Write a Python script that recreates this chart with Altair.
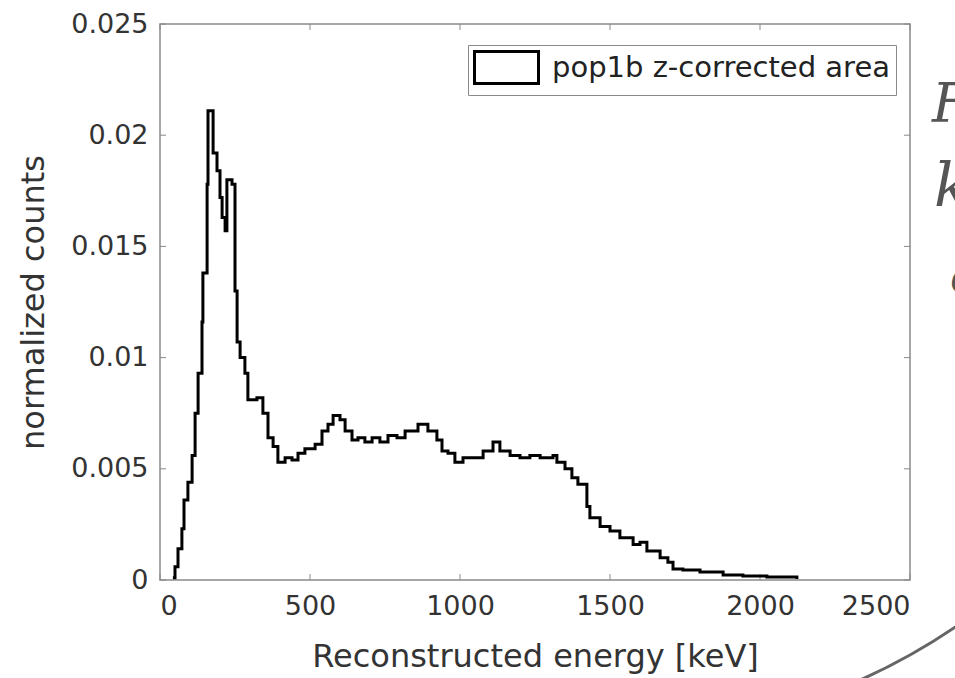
import altair as alt
import pandas as pd

# Histogram (bin left edge in keV, normalized counts)
energy = [43, 50, 60, 73, 80, 93, 107, 117, 127, 140, 143, 157, 160, 177, 190, 200,
          207, 217, 223, 240, 250, 257, 267, 283, 293, 323, 343, 360, 377, 393, 417,
          440, 460, 483, 517, 540, 560, 577, 600, 617, 640, 660, 683, 707, 733, 760,
          790, 817, 860, 893, 923, 940, 960, 983, 1010, 1057, 1077, 1110, 1133, 1167,
          1200, 1233, 1267, 1310, 1323, 1350, 1373, 1393, 1423, 1433, 1467, 1500, 1533,
          1577, 1600, 1623, 1667, 1693, 1710, 1743, 1800, 1877, 1943, 2023, 2123]
counts = [0.0001, 0.0006, 0.0014, 0.0023, 0.0036, 0.0044, 0.0056, 0.0075, 0.0093, 0.0116,
          0.0138, 0.0178, 0.0211, 0.0192, 0.0184, 0.0172, 0.0163, 0.0157, 0.0180, 0.0178,
          0.0130, 0.0107, 0.0100, 0.0093, 0.0081, 0.0082, 0.0075, 0.0064, 0.0060, 0.0053,
          0.0055, 0.0054, 0.0057, 0.0059, 0.0061, 0.0067, 0.0070, 0.0074, 0.0072, 0.0067,
          0.0063, 0.0064, 0.0062, 0.0064, 0.0062, 0.0065, 0.0064, 0.0067, 0.0070, 0.0067,
          0.0063, 0.0058, 0.0057, 0.0053, 0.0055, 0.0055, 0.0058, 0.0062, 0.0058, 0.0056,
          0.0055, 0.0056, 0.0055, 0.0056, 0.0053, 0.0050, 0.0046, 0.0043, 0.0033, 0.0028,
          0.0024, 0.0022, 0.0019, 0.0016, 0.0017, 0.0013, 0.0010, 0.0008, 0.0005, 0.00045,
          0.00036, 0.00022, 0.00018, 0.00013, 0.00005]
series_name = "pop1b z-corrected area"

x_ticks = [0, 500, 1000, 1500, 2000, 2500]
y_ticks = [0, 0.005, 0.01, 0.015, 0.02, 0.025]

# fragments of slide text visible at the right edge
slide_letters = ["F", "k", "c"]

W, H = 750, 556
FONT = "DejaVu Sans"
GRAY = "#8a8a8a"

df = pd.DataFrame({"energy": energy, "counts": counts, "series": series_name})
dfx = pd.DataFrame({"v": x_ticks})
dfy = pd.DataFrame({"v": y_ticks})

xscale = alt.Scale(domain=[0, 2500], nice=False, zero=False)
yscale = alt.Scale(domain=[0, 0.025], nice=False)

line = alt.Chart(df).mark_line(interpolate="step-after", strokeWidth=3).encode(
    x=alt.X("energy:Q", scale=xscale,
            axis=alt.Axis(values=x_ticks, format="d", title="Reconstructed energy [keV]",
                          tickSize=0, domain=False, grid=False, labelPadding=13,
                          titlePadding=22)),
    y=alt.Y("counts:Q", scale=yscale,
            axis=alt.Axis(values=y_ticks, format="~g", title="normalized counts",
                          tickSize=0, domain=False, grid=False, labelPadding=12,
                          titlePadding=20)),
    color=alt.Color("series:N", scale=alt.Scale(range=["black"]),
                    legend=alt.Legend(title=None, orient="none", legendX=308, legendY=21,
                                      symbolType="M-1,-1H3V1H-1Z", symbolSize=1024,
                                      symbolStrokeWidth=3, symbolFillColor="white",
                                      labelFontSize=29, labelFont=FONT, labelColor="#222",
                                      labelLimit=600, labelOffset=44,
                                      padding=5, strokeColor=GRAY, fillColor="white",
                                      cornerRadius=0)),
)

xt_bottom = alt.Chart(dfx).mark_rule(color=GRAY, strokeWidth=1).encode(
    x=alt.X("v:Q", scale=xscale), y=alt.value(H), y2=alt.value(H - 6))
xt_top = alt.Chart(dfx).mark_rule(color=GRAY, strokeWidth=1).encode(
    x=alt.X("v:Q", scale=xscale), y=alt.value(0), y2=alt.value(6))
yt_left = alt.Chart(dfy).mark_rule(color=GRAY, strokeWidth=1).encode(
    y=alt.Y("v:Q", scale=yscale), x=alt.value(0), x2=alt.value(6))
yt_right = alt.Chart(dfy).mark_rule(color=GRAY, strokeWidth=1).encode(
    y=alt.Y("v:Q", scale=yscale), x=alt.value(W), x2=alt.value(W - 6))

slide_text = alt.Chart(pd.DataFrame({"t": slide_letters,
                                     "px": [772, 774, 790],
                                     "py": [98, 182, 268],
                                     "fs": [54, 60, 44]})).mark_text(
    font="DejaVu Serif", fontStyle="italic", color="#555", align="left",
    baseline="alphabetic", clip=False).encode(
    text="t:N", x=alt.X("px:Q", scale=None), y=alt.Y("py:Q", scale=None),
    size=alt.Size("fs:Q", scale=None, legend=None))

slide_arc = alt.Chart(pd.DataFrame({"k": [0]})).mark_arc(
    color="#666", clip=False).encode(
    x=alt.value(440), y=alt.value(76),
    radius=alt.value(637), radius2=alt.value(634),
    theta=alt.value(2.45), theta2=alt.value(2.9))

chart = alt.layer(xt_bottom, xt_top, yt_left, yt_right, line, slide_text,
                  slide_arc).properties(
    width=W, height=H,
    background="white",
    autosize=alt.AutoSizeParams(type="none"),
    padding={"left": 160, "top": 24, "right": 45, "bottom": 98},
).configure_view(stroke=GRAY, strokeWidth=1.5).configure_axis(
    labelFont=FONT, labelFontSize=27, labelColor="#333",
    titleFont=FONT, titleFontSize=32, titleColor="#333", titleFontWeight="normal",
)

chart.save("out.html", embed_options={"renderer": "svg", "actions": False})
